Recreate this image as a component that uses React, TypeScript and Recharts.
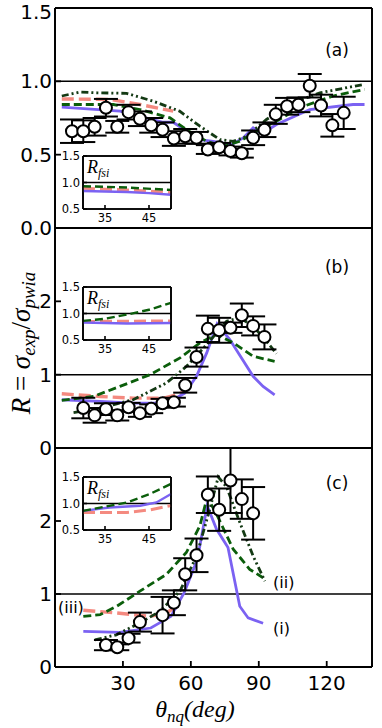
import React from "react";
import { ComposedChart, Line, Scatter, ErrorBar, XAxis, YAxis, ReferenceLine } from "recharts";

const SANS = "DejaVu Sans";
const SERIF = "'Liberation Serif', 'DejaVu Serif', serif";
const xTicks = [30, 60, 90, 120];
const insetXTicks = [35, 45];
const insetYTicks = [0.5, 1.0, 1.5];

// panel (a): measured points
const aTheta = [7.5, 12.5, 17.5, 22.5, 27.5, 32.5, 37.5, 42.5, 47.5, 52.5, 57.5, 62.5, 67.5, 72.5, 77.5, 82.5, 87.5, 92.5, 97.5, 102.5, 107.5, 112.5, 117.5, 122.5, 127.5];
const aR = [0.66, 0.66, 0.69, 0.82, 0.69, 0.79, 0.745, 0.7, 0.67, 0.61, 0.625, 0.615, 0.535, 0.55, 0.525, 0.51, 0.615, 0.67, 0.775, 0.83, 0.84, 0.97, 0.835, 0.7, 0.785];
const aErr = [0.08, 0.074, 0.06, 0.06, 0.04, 0.05, 0.05, 0.05, 0.05, 0.05, 0.05, 0.04, 0.03, 0.03, 0.03, 0.03, 0.05, 0.05, 0.065, 0.057, 0.05, 0.08, 0.074, 0.077, 0.11];
// panel (a): calculations
const aPurple = [[3, 0.824], [28.7, 0.797], [37.5, 0.762], [47.8, 0.721], [52.2, 0.721], [58.1, 0.66], [64, 0.603], [69.8, 0.591], [77.9, 0.568], [83.1, 0.614], [87.5, 0.683], [89.7, 0.66], [91.9, 0.648], [97.8, 0.705], [112.5, 0.808], [131.6, 0.842], [136.7, 0.842]];
const aPink = [[3, 0.88], [24.3, 0.877], [37.5, 0.842], [52.2, 0.797]];
const aGreen = [[3, 0.842], [25.8, 0.842], [37.5, 0.808], [50.8, 0.751], [58.1, 0.67], [67, 0.591], [74.3, 0.557], [81.6, 0.591], [89, 0.66], [97.8, 0.728], [108, 0.82], [122.8, 0.9], [136.7, 0.945]];
const aDark = [[3, 0.9], [11, 0.927], [18.4, 0.922], [31.6, 0.918], [43.3, 0.865], [55, 0.797], [64, 0.694], [72.8, 0.603], [78.7, 0.591], [84.6, 0.625], [93.4, 0.74], [105.2, 0.854], [117, 0.922], [136.7, 0.98]];

// panel (b)
const bTheta = [12.5, 17.5, 22.5, 27.5, 32.5, 37.5, 42.5, 47.5, 52.5, 57.5, 62.5, 67.5, 72.5, 77.5, 82.5, 87.5, 92.5];
const bR = [0.545, 0.445, 0.53, 0.445, 0.555, 0.475, 0.535, 0.61, 0.625, 0.855, 1.24, 1.625, 1.605, 1.64, 1.81, 1.665, 1.515];
const bErr = [0.14, 0.1, 0.08, 0.07, 0.06, 0.05, 0.06, 0.06, 0.06, 0.1, 0.13, 0.18, 0.17, 0.07, 0.16, 0.13, 0.17];
const bPurple = [[3, 0.658], [19.9, 0.635], [34.5, 0.612], [46.3, 0.612], [52.2, 0.658], [57.3, 0.749], [62.5, 0.977], [67, 1.297], [71.6, 1.694], [77.2, 1.479], [87.5, 0.977], [91.9, 0.84], [97, 0.726]];
const bPink = [[3, 0.74], [19.9, 0.703], [34.5, 0.68], [47.8, 0.68], [53.7, 0.726], [57.3, 0.771]];
const bGreen = [[3, 0.648], [17, 0.703], [28.7, 0.84], [42, 1.0], [55.2, 1.228], [64, 1.434], [71.3, 1.548], [78.7, 1.434], [87.5, 1.25], [97, 1.182]];
const bDark = [[8.2, 0.484], [19.9, 0.543], [34.5, 0.658], [49.2, 0.886], [58.1, 1.114], [67, 1.41], [75.8, 1.73], [81.6, 1.777], [87.5, 1.662], [93.4, 1.456], [97.8, 1.288]];

// panel (c)
const cTheta = [22.5, 27.5, 32.5, 37.5, 47.5, 52.5, 57.5, 62.5, 67.5, 72.5, 77.5, 82.5, 87.5];
const cR = [0.3, 0.27, 0.395, 0.615, 0.71, 0.88, 1.27, 1.53, 2.36, 2.155, 2.555, 2.3, 2.105];
const cErr = [0.07, 0.04, 0.06, 0.13, 0.25, 0.17, 0.22, 0.23, 0.25, 0.29, 0.445, 0.27, 0.36];
const cPurple = [[12.5, 0.487], [28.5, 0.473], [42.3, 0.534], [51.2, 0.694], [57, 1.016], [62.9, 1.476], [67.2, 2.211], [71.3, 1.89], [76.4, 1.637], [81.6, 0.832], [85.3, 0.672], [91.9, 0.6]];
const cPink = [[12.5, 0.777], [27.1, 0.74], [42, 0.694], [49.2, 0.74], [53.7, 0.832]];
const cGreen = [[12.5, 0.694], [19.9, 0.717], [27.3, 0.832], [37.5, 1.039], [49.2, 1.269], [58, 1.568], [64, 1.935], [67.2, 2.327], [71.3, 2.097], [78.7, 1.614], [86, 1.338], [91.9, 1.223]];
const cDark = [[17.6, 0.372], [27.1, 0.441], [37.5, 0.603], [46.3, 0.763], [55.2, 1.039], [62.5, 1.521], [68.4, 2.166], [72.1, 2.603], [75.8, 2.465], [81.6, 1.982], [87.5, 1.521], [92.7, 1.177]];

// insets: R_fsi
const aInPurple = [[30, 0.84], [40, 0.82], [45, 0.8], [50, 0.77]];
const aInPink = [[30, 0.89], [40, 0.86], [50, 0.81]];
const aInGreen = [[30, 0.93], [40, 0.905], [50, 0.86]];
const bInPurple = [[30, 0.83], [40, 0.81], [50, 0.82]];
const bInPink = [[30, 0.85], [50, 0.86]];
const bInGreen = [[30, 0.86], [35, 0.9], [40, 0.98], [45, 1.07], [50, 1.2]];
const cInPurple = [[30, 0.86], [36, 0.925], [43, 0.957], [46.7, 1.02], [50, 1.18]];
const cInPink = [[30, 0.83], [40, 0.83], [45.3, 0.88], [50, 0.96]];
const cInGreen = [[30, 0.86], [40, 1.02], [45.2, 1.18], [50, 1.37]];

const PURPLE = "#7b62f2";
const PINK = "#f48a80";
const GREEN = "#0b5e0b";
const DARK = "#143a14";

const toPts = (xs: number[], ys: number[], es: number[]) => xs.map((x, i) => ({ x, y: ys[i], e: es[i] }));
const toCurve = (pairs: number[][]) => pairs.map(([x, y]) => ({ x, y }));

const circle = (p: any) => <circle cx={p.cx} cy={p.cy} r={6} fill="#fff" stroke="#000" strokeWidth={2} />;

function curves(purple: number[][], pink: number[][], green: number[][], dark: number[][] | null, w: number) {
  return [
    <Line key="pk" data={toCurve(pink)} dataKey="y" stroke={PINK} strokeWidth={w + 0.6} strokeDasharray="12 5" dot={false} isAnimationActive={false} />,
    <Line key="pu" data={toCurve(purple)} dataKey="y" stroke={PURPLE} strokeWidth={w} dot={false} isAnimationActive={false} />,
    <Line key="gr" data={toCurve(green)} dataKey="y" stroke={GREEN} strokeWidth={w} strokeDasharray="8 4" dot={false} isAnimationActive={false} />,
    dark ? <Line key="dk" data={toCurve(dark)} dataKey="y" stroke={DARK} strokeWidth={w} strokeDasharray="7 3 2 3 2 3" dot={false} isAnimationActive={false} /> : null,
  ];
}

// hidden series so the mirrored top/right axes get a domain
function mirrorSeries(curve: number[][]) {
  return <Line xAxisId="t" yAxisId="r" data={toCurve(curve)} dataKey="y" stroke="none" dot={false} legendType="none" isAnimationActive={false} />;
}

function Panel(props: any) {
  const { top, height, mTop, mBottom, yMax, yTicks, fmt, xMode, points, purple, pink, green, dark } = props;
  const xTick = xMode !== "none";
  return (
    <div style={{ position: "absolute", left: 0, top }}>
      <ComposedChart width={382} height={height} margin={{ top: mTop, right: 9, bottom: mBottom, left: 0 }}>
        <XAxis type="number" dataKey="x" domain={[0, 140]} ticks={xTicks}
          height={xMode === "labels" ? 30 : 1} stroke="#000" strokeWidth={1.8}
          tickLine={xTick} tickSize={-6} tickMargin={15}
          tick={xMode === "labels" ? { fontSize: 20, fill: "#000", fontFamily: SANS, strokeWidth: 0 } : false} />
        <XAxis xAxisId="t" type="number" dataKey="x" orientation="top" domain={[0, 140]} ticks={xTicks}
          height={1} stroke="#000" strokeWidth={1.8} tickLine={xTick} tickSize={-6} tick={false} />
        <YAxis type="number" dataKey="y" domain={[0, yMax]} ticks={yTicks} width={55}
          stroke="#000" strokeWidth={1.8} tickSize={-6} tickMargin={9} tickFormatter={fmt}
          tick={{ fontSize: 20, fill: "#000", fontFamily: SANS, strokeWidth: 0 }} />
        <YAxis yAxisId="r" type="number" dataKey="y" orientation="right" domain={[0, yMax]} ticks={yTicks} width={1}
          stroke="#000" strokeWidth={1.8} tickSize={-6} tick={false} />
        <ReferenceLine y={1} stroke="#000" strokeWidth={1.5} />
        <ReferenceLine x={0} stroke="#000" strokeWidth={1.8} />
        <ReferenceLine x={140} stroke="#000" strokeWidth={1.8} />
        <ReferenceLine y={0} stroke="#000" strokeWidth={1.8} />
        <ReferenceLine y={yMax} stroke="#000" strokeWidth={1.8} />
        {mirrorSeries(purple)}
        {curves(purple, pink, green, dark, 2.8)}
        <Scatter data={points} dataKey="y" shape={circle} isAnimationActive={false}>
          <ErrorBar dataKey="e" direction="y" width={12} stroke="#000" strokeWidth={2} />
        </Scatter>
      </ComposedChart>
    </div>
  );
}

function Inset(props: any) {
  const { boxTop, purple, pink, green } = props;
  const left = 83, w = 88, h = 53;
  const tk = { fontSize: 11.5, fill: "#000", fontFamily: SANS, strokeWidth: 0 };
  return (
    <>
      <div style={{ position: "absolute", left, top: boxTop, width: w, height: h, background: "#fff" }} />
      <div style={{ position: "absolute", left: left - 36, top: boxTop - 10 }}>
        <ComposedChart width={36 + w + 6} height={10 + h + 18} margin={{ top: 9, right: 5, bottom: 0, left: 0 }}>
          <XAxis type="number" dataKey="x" domain={[30, 50]} ticks={insetXTicks} height={18}
            stroke="#000" strokeWidth={1.6} tickSize={-4} tickMargin={9} tick={tk} />
          <XAxis xAxisId="t" type="number" dataKey="x" orientation="top" domain={[30, 50]} ticks={insetXTicks} height={1}
            stroke="#000" strokeWidth={1.6} tickSize={-4} tick={false} />
          <YAxis type="number" dataKey="y" domain={[0.5, 1.5]} ticks={insetYTicks} width={36}
            stroke="#000" strokeWidth={1.6} tickSize={-4} tickMargin={7} tick={tk} tickFormatter={(v: number) => v.toFixed(1)} />
          <YAxis yAxisId="r" type="number" dataKey="y" orientation="right" domain={[0.5, 1.5]} ticks={insetYTicks} width={1}
            stroke="#000" strokeWidth={1.6} tickSize={-4} tick={false} />
          <ReferenceLine y={1} stroke="#000" strokeWidth={1.3} />
          <ReferenceLine x={30} stroke="#000" strokeWidth={1.6} />
          <ReferenceLine x={50} stroke="#000" strokeWidth={1.6} />
          <ReferenceLine y={0.5} stroke="#000" strokeWidth={1.6} />
          <ReferenceLine y={1.5} stroke="#000" strokeWidth={1.6} />
          {mirrorSeries(purple)}
          {curves(purple, pink, green, null, 2.4)}
        </ComposedChart>
      </div>
    </>
  );
}

function RFsi({ x, y }: { x: number; y: number }) {
  return (
    <text x={x} y={y} style={{ fontFamily: SERIF, fontStyle: "italic", fontSize: 18 }}>
      R<tspan style={{ fontSize: 12 }} dy={4}>fsi</tspan>
    </text>
  );
}

export default function App() {
  const fmt1 = (v: number) => v.toFixed(1);
  const fmt0 = (v: number) => String(v);
  return (
    <div style={{ position: "absolute", left: 0, top: 0, width: 382, height: 728, background: "#fff" }}>
      <Panel top={0} height={245} mTop={7} mBottom={16} yMax={1.5} yTicks={[0, 0.5, 1, 1.5]} fmt={fmt1} xMode="none"
        points={toPts(aTheta, aR, aErr)} purple={aPurple} pink={aPink} green={aGreen} dark={aDark} />
      <Panel top={213} height={250} mTop={14} mBottom={14} yMax={3} yTicks={[0, 1, 2]} fmt={fmt0} xMode="ticks"
        points={toPts(bTheta, bR, bErr)} purple={bPurple} pink={bPink} green={bGreen} dark={bDark} />
      <Panel top={433} height={269} mTop={14} mBottom={5} yMax={3} yTicks={[0, 1, 2]} fmt={fmt0} xMode="labels"
        points={toPts(cTheta, cR, cErr)} purple={cPurple} pink={cPink} green={cGreen} dark={cDark} />
      <Inset boxTop={156} purple={aInPurple} pink={aInPink} green={aInGreen} />
      <Inset boxTop={287} purple={bInPurple} pink={bInPink} green={bInGreen} />
      <Inset boxTop={477} purple={cInPurple} pink={cInPink} green={cInGreen} />
      <svg width={382} height={728} style={{ position: "absolute", left: 0, top: 0, pointerEvents: "none" }}>
        <g style={{ fontFamily: SANS, fontSize: 17 }} dominantBaseline="central">
          <text x={337} y={50} textAnchor="middle">(a)</text>
          <text x={337} y={267} textAnchor="middle">(b)</text>
          <text x={337} y={483} textAnchor="middle">(c)</text>
          <text x={273} y={582} style={{ fontSize: 16 }}>(ii)</text>
          <text x={273} y={628} style={{ fontSize: 16 }}>(i)</text>
          <text x={58} y={607} style={{ fontSize: 16 }}>(iii)</text>
        </g>
        <RFsi x={87} y={173} />
        <RFsi x={87} y={304} />
        <RFsi x={87} y={494} />
        <text transform="translate(30,343) rotate(-90)" textAnchor="middle" style={{ fontFamily: SERIF, fontSize: 27 }}>
          <tspan style={{ fontStyle: "italic" }}>R</tspan> = <tspan style={{ fontStyle: "italic" }}>σ</tspan>
          <tspan style={{ fontStyle: "italic", fontSize: 19 }} dy={5}>exp</tspan>
          <tspan dy={-5}>/</tspan><tspan style={{ fontStyle: "italic" }}>σ</tspan>
          <tspan style={{ fontStyle: "italic", fontSize: 19 }} dy={5}>pwia</tspan>
        </text>
        <text x={195} y={717} textAnchor="middle" style={{ fontFamily: SERIF, fontSize: 24, fontStyle: "italic" }}>
          θ<tspan style={{ fontSize: 17 }} dy={5}>nq</tspan><tspan dy={-5}>(deg)</tspan>
        </text>
      </svg>
    </div>
  );
}
